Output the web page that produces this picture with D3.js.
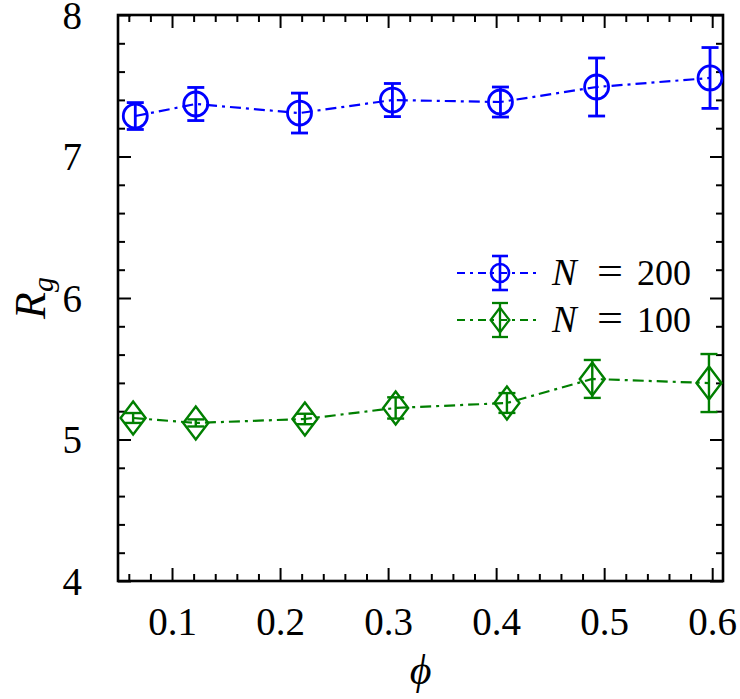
<!DOCTYPE html>
<html>
<head>
<meta charset="utf-8">
<script src="https://cdn.jsdelivr.net/npm/d3@7"></script>
<style>
  html, body { margin: 0; padding: 0; background: #fff; }
  svg { display: block; }
</style>
</head>
<body>
<svg id="chart" width="740" height="699"></svg>
<script>
// ---- data ----
const phiN200 = [0.066, 0.122, 0.218, 0.304, 0.404, 0.493, 0.598];
const rgN200  = [7.286, 7.371, 7.307, 7.399, 7.385, 7.491, 7.555];
const errN200 = [0.095, 0.117, 0.141, 0.117, 0.106, 0.205, 0.215];

const phiN100 = [0.064, 0.122, 0.223, 0.307, 0.410, 0.489, 0.597];
const rgN100  = [5.152, 5.117, 5.145, 5.223, 5.258, 5.428, 5.399];
const errN100 = [0.035, 0.025, 0.037, 0.075, 0.070, 0.134, 0.205];

const xTickValues = [0.1, 0.2, 0.3, 0.4, 0.5, 0.6];
const yTickValues = [4, 5, 6, 7, 8];
const seriesNames = ["200", "100"];

// ---- layout ----
const svg = d3.select("#chart");
const L = 118, R = 723, T = 15, B = 581;
const x = d3.scaleLinear().domain([0.05, 0.61]).range([L, R]);
const y = d3.scaleLinear().domain([4, 8]).range([B, T]);
const serif = '"Liberation Serif", "Times New Roman", serif';

const xMinor = d3.range(0.06, 0.6101, 0.02).filter(v => !xTickValues.some(t => Math.abs(t - v) < 1e-6));
const yMinor = d3.range(4.2, 7.9, 0.2).filter(v => !yTickValues.some(t => Math.abs(t - v) < 1e-6));

function styleAxis(g) {
  g.select(".domain").remove();
  g.selectAll(".tick line").attr("stroke", "#000").attr("stroke-width", 2);
}

// bottom
svg.append("g").attr("transform", `translate(0,${B})`)
  .call(d3.axisBottom(x).tickValues(xTickValues).tickSize(-13).tickPadding(26).tickFormat(d3.format(".1f")))
  .call(styleAxis)
  .call(g => g.attr("font-family", null).selectAll("text").attr("font-size", 39).attr("fill", "#000").attr("font-family", serif));
svg.append("g").attr("transform", `translate(0,${B})`)
  .call(d3.axisBottom(x).tickValues(xMinor).tickSize(-7).tickFormat(""))
  .call(styleAxis);
// top
svg.append("g").attr("transform", `translate(0,${T})`)
  .call(d3.axisTop(x).tickValues(xTickValues).tickSize(-13).tickFormat(""))
  .call(styleAxis);
svg.append("g").attr("transform", `translate(0,${T})`)
  .call(d3.axisTop(x).tickValues(xMinor).tickSize(-7).tickFormat(""))
  .call(styleAxis);
// left
svg.append("g").attr("transform", `translate(${L},0)`)
  .call(d3.axisLeft(y).tickValues(yTickValues).tickSize(-13).tickPadding(36).tickFormat(d3.format("d")))
  .call(styleAxis)
  .call(g => g.attr("font-family", null).selectAll("text").attr("font-size", 39).attr("fill", "#000")
    .attr("font-family", serif).attr("dy", "0.34em"));
svg.append("g").attr("transform", `translate(${L},0)`)
  .call(d3.axisLeft(y).tickValues(yMinor).tickSize(-7).tickFormat(""))
  .call(styleAxis);
// right
svg.append("g").attr("transform", `translate(${R},0)`)
  .call(d3.axisRight(y).tickValues(yTickValues).tickSize(-13).tickFormat(""))
  .call(styleAxis);
svg.append("g").attr("transform", `translate(${R},0)`)
  .call(d3.axisRight(y).tickValues(yMinor).tickSize(-7).tickFormat(""))
  .call(styleAxis);

// frame
svg.append("rect").attr("x", L).attr("y", T).attr("width", R - L).attr("height", B - T)
  .attr("fill", "none").attr("stroke", "#000").attr("stroke-width", 2.6);

// ---- series ----
const series = [
  { name: seriesNames[0], xs: phiN200, ys: rgN200, es: errN200, color: "#0000ff", marker: "circle" },
  { name: seriesNames[1], xs: phiN100, ys: rgN100, es: errN100, color: "#007f00", marker: "diamond" }
];
const dash = "11,5,3,5";

function drawMarker(g, type, cx, cy, color, scale, sw) {
  if (type === "circle") {
    g.append("circle").attr("cx", cx).attr("cy", cy).attr("r", 12 * scale)
      .attr("fill", "none").attr("stroke", color).attr("stroke-width", sw);
  } else {
    const hw = 12.5 * scale, hh = 16.5 * scale;
    g.append("path").attr("d", `M${cx},${cy - hh}L${cx + hw},${cy}L${cx},${cy + hh}L${cx - hw},${cy}Z`)
      .attr("fill", "none").attr("stroke", color).attr("stroke-width", sw);
  }
}
function drawErr(g, cx, y0, y1, color, cap, sw) {
  g.append("line").attr("x1", cx).attr("x2", cx).attr("y1", y0).attr("y2", y1)
    .attr("stroke", color).attr("stroke-width", sw);
  [y0, y1].forEach(yy => g.append("line").attr("x1", cx - cap).attr("x2", cx + cap)
    .attr("y1", yy).attr("y2", yy).attr("stroke", color).attr("stroke-width", sw));
}

series.forEach(s => {
  const g = svg.append("g");
  const pts = s.xs.map((v, i) => [v, s.ys[i], s.es[i]]);
  g.append("path").datum(pts)
    .attr("d", d3.line().x(d => x(d[0])).y(d => y(d[1])))
    .attr("fill", "none").attr("stroke", s.color).attr("stroke-width", 2.2)
    .attr("stroke-dasharray", dash);
  const sw = s.marker === "circle" ? 2.8 : 2.4;
  pts.forEach(d => {
    drawErr(g, x(d[0]), y(d[1] + d[2]), y(d[1] - d[2]), s.color, 8.5, sw);
    drawMarker(g, s.marker, x(d[0]), y(d[1]), s.color, 1, sw);
  });
});

// ---- legend ----
const legY = [273, 320];
series.forEach((s, i) => {
  const g = svg.append("g");
  const yy = legY[i];
  g.append("line").attr("x1", 457).attr("x2", 540).attr("y1", yy).attr("y2", yy)
    .attr("stroke", s.color).attr("stroke-width", 2.2).attr("stroke-dasharray", "8,5,3,5");
  const sw = s.marker === "circle" ? 2.6 : 2.3;
  drawErr(g, 500, yy - 17, yy + 17, s.color, 8, sw);
  drawMarker(g, s.marker, 500, yy, s.color, 0.75, sw);
  g.append("text").attr("x", 552).attr("y", yy + 12)
    .attr("font-family", serif).attr("font-size", 37).attr("font-style", "italic").attr("fill", "#000").text("N");
  g.append("text").attr("x", 597).attr("y", yy + 12)
    .attr("font-family", serif).attr("font-size", 40).attr("fill", "#000")
    .attr("textLength", 26).attr("lengthAdjust", "spacingAndGlyphs").text("=");
  g.append("text").attr("x", 637).attr("y", yy + 12)
    .attr("font-family", serif).attr("font-size", 36).attr("fill", "#000").text(s.name);
});

// ---- axis titles ----
svg.append("text").attr("x", (L + R) / 2).attr("y", 684).attr("text-anchor", "middle")
  .attr("font-family", serif).attr("font-style", "italic")
  .attr("font-size", 42).attr("fill", "#000").text("ϕ");

const yt = svg.append("text").attr("transform", "translate(45,298) rotate(-90)")
  .attr("text-anchor", "middle").attr("font-family", serif).attr("font-size", 44).attr("fill", "#000");
yt.append("tspan").attr("font-style", "italic").text("R");
yt.append("tspan").attr("font-style", "italic").attr("font-size", 30).attr("dy", 8).text("g");
</script>
</body>
</html>
